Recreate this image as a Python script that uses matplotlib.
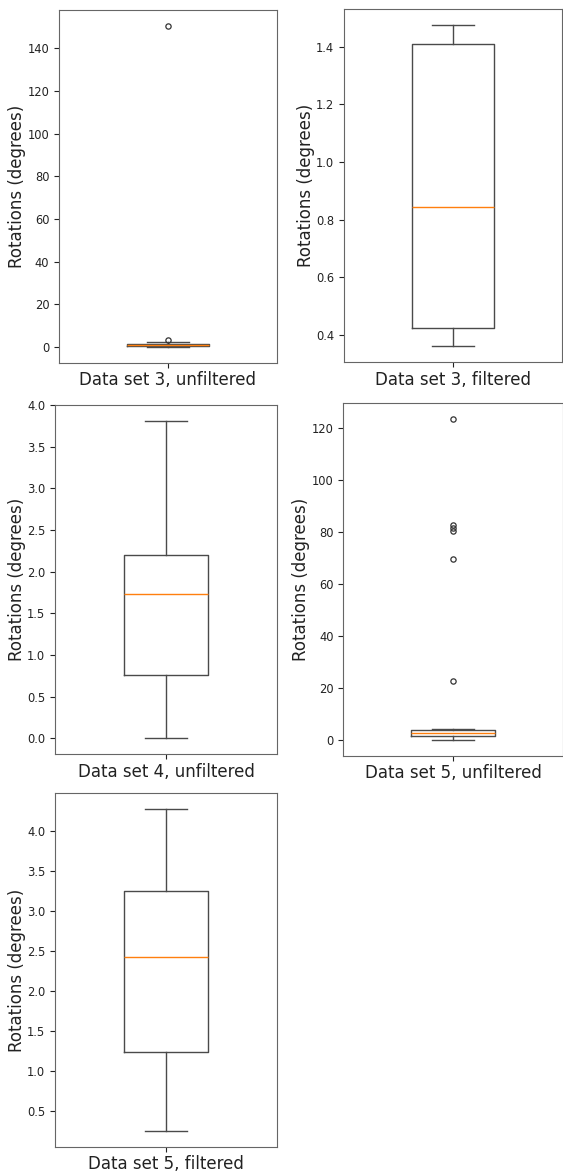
import matplotlib
matplotlib.use("Agg")
import matplotlib.pyplot as plt

# box statistics (degrees)
labels = ["Data set 3, unfiltered", "Data set 3, filtered",
          "Data set 4, unfiltered", "Data set 5, unfiltered",
          "Data set 5, filtered"]
whislo = [0.1, 0.36, 0.0, 0.1, 0.253]
q1 = [0.5, 0.422, 0.763, 1.66, 1.236]
med = [0.9, 0.845, 1.737, 2.7, 2.423]
q3 = [1.3, 1.411, 2.197, 3.85, 3.251]
whishi = [2.5, 1.474, 3.81, 4.4, 4.267]
fliers = [[3.6, 150.3], [], [], [22.8, 69.6, 80.6, 81.6, 82.9, 123.6], []]

# axes rectangles in figure fraction (left, bottom, width, height)
rects = [
    [0.1048, 0.6905, 0.3872, 0.3009],
    [0.6110, 0.6911, 0.3872, 0.3009],
    [0.0977, 0.3570, 0.3943, 0.2978],
    [0.6098, 0.3557, 0.3900, 0.3009],
    [0.0977, 0.0224, 0.3943, 0.3013],
]

line = "#4a4a4a"
fig = plt.figure(figsize=(5.63, 11.73), dpi=100)

for i in range(len(labels)):
    ax = fig.add_axes(rects[i])
    stats = [dict(med=med[i], q1=q1[i], q3=q3[i], whislo=whislo[i],
                  whishi=whishi[i], fliers=fliers[i])]
    ax.bxp(stats, widths=0.38,
           boxprops=dict(color=line, linewidth=1.0),
           whiskerprops=dict(color=line, linewidth=1.0),
           capprops=dict(color=line, linewidth=1.0),
           medianprops=dict(color="#ff7f0e", linewidth=1.0),
           flierprops=dict(marker="o", markerfacecolor="none",
                           markeredgecolor="#333333", markersize=3.8,
                           markeredgewidth=0.9))
    ax.set_xticks([1])
    ax.set_xticklabels([""])
    ax.set_xlabel(labels[i], fontsize=12, labelpad=-1, color="#222222")
    ax.set_ylabel("Rotations (degrees)", fontsize=12, labelpad=1,
                  color="#222222")
    ax.tick_params(labelsize=8.3, colors="#222222")
    for s in ax.spines.values():
        s.set_color("#666666")

fig.savefig("out.png", dpi=100)
